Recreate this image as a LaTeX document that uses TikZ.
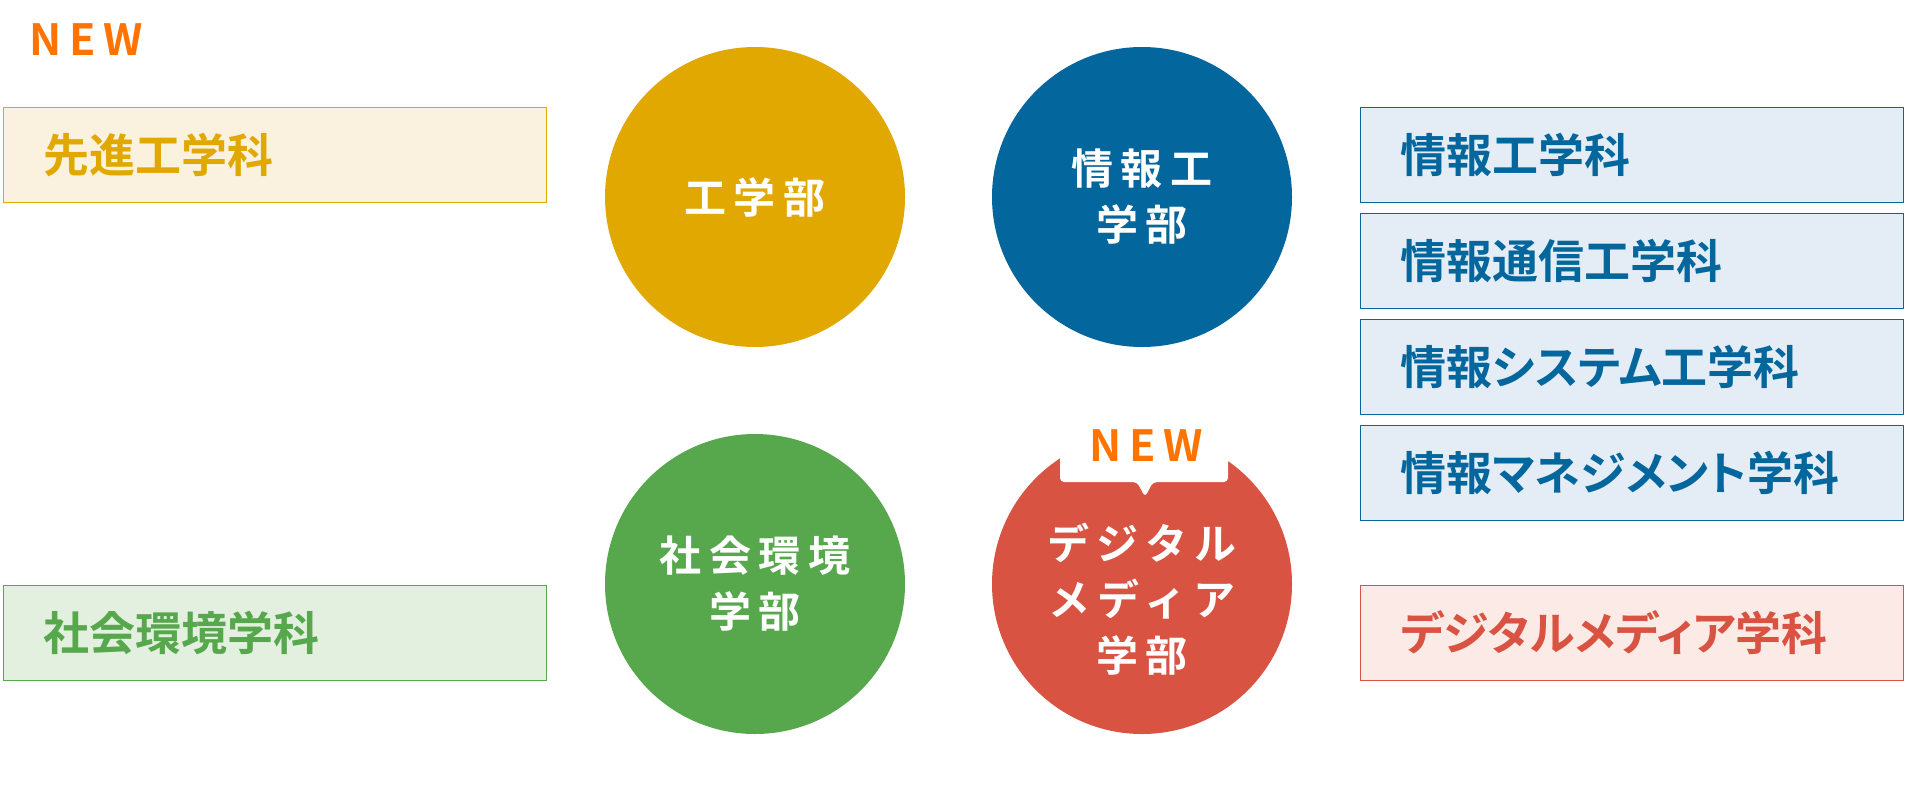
\documentclass[tikz,border=0pt]{standalone}
\usepackage{fontspec}
\newfontfamily\jpfont[RawFeature=+palt]{Noto Sans CJK JP Bold}
\newfontfamily\jpwide[LetterSpace=18]{Noto Sans CJK JP Bold}
\newfontfamily\newmark[LetterSpace=18]{Noto Sans CJK JP Bold}
\definecolor{kogakuC}{HTML}{E0A800}
\definecolor{kogakuL}{HTML}{FAF2DF}
\definecolor{johoC}{HTML}{03669C}
\definecolor{johoL}{HTML}{E4EDF6}
\definecolor{shakaiC}{HTML}{57A84C}
\definecolor{shakaiL}{HTML}{E3F0E0}
\definecolor{digiC}{HTML}{D95343}
\definecolor{digiL}{HTML}{FBEAE5}
\definecolor{newC}{HTML}{FF7400}
\tikzset{
  gakka/.style={draw, line width=1.5pt, minimum width=543pt, minimum height=95pt,
    text width=463pt, inner xsep=40pt, align=left,
    font=\jpfont\fontsize{46}{52}\selectfont},
  gakubu/.style={circle, minimum size=300pt, inner sep=0pt},
  gakubutext/.style={text=white, align=center,
    font=\jpwide\fontsize{42}{56}\selectfont},
  newtag/.style={text=newC, inner sep=0pt, font=\newmark\fontsize{43}{43}\selectfont}
}
\begin{document}
\begin{tikzpicture}[x=1pt,y=-1pt]
  \useasboundingbox (0,0) rectangle (1905,787);
  % faculties
  \node[gakubu, fill=kogakuC] (kogaku) at (755,197) {};
  \node[gakubu, fill=johoC] (joho) at (1142,197) {};
  \node[gakubu, fill=shakaiC] (shakai) at (755,584) {};
  \node[gakubu, fill=digiC] (digi) at (1142,584) {};
  \node[gakubutext] (kogakut) at (kogaku) {工学部};
  \node[gakubutext] (johot) at (joho) {情報工\\学部};
  \node[gakubutext] (shakait) at (shakai) {社会環境\\学部};
  \node[gakubutext] (digit) at (1142,599) {デジタル\\メディア\\学部};
  % callout
  \fill[white, rounded corners=4pt] (1060,415) -- (1060,482) -- (1137,482) -- (1145,497)
    -- (1153,482) -- (1228,482) -- (1228,415) -- cycle;
  \node[newtag] (newdigi) at (1146,446) {NEW};
  \node[newtag] (newsentan) at (86,40) {NEW};
  % departments
  \node[gakka, draw=kogakuC, fill=kogakuL, text=kogakuC] (sentan) at (275,155) {先進工学科};
  \node[gakka, draw=shakaiC, fill=shakaiL, text=shakaiC] (shakaig) at (275,633) {社会環境学科};
  \foreach \i/\t in {0/情報工学科,1/情報通信工学科,2/情報システム工学科,3/情報マネジメント学科}
    \node[gakka, draw=johoC, fill=johoL, text=johoC] (joho\i) at (1632,155+106*\i) {\t};
  \node[gakka, draw=digiC, fill=digiL, text=digiC] (digig) at (1632,633) {デジタルメディア学科};
\end{tikzpicture}
\end{document}
